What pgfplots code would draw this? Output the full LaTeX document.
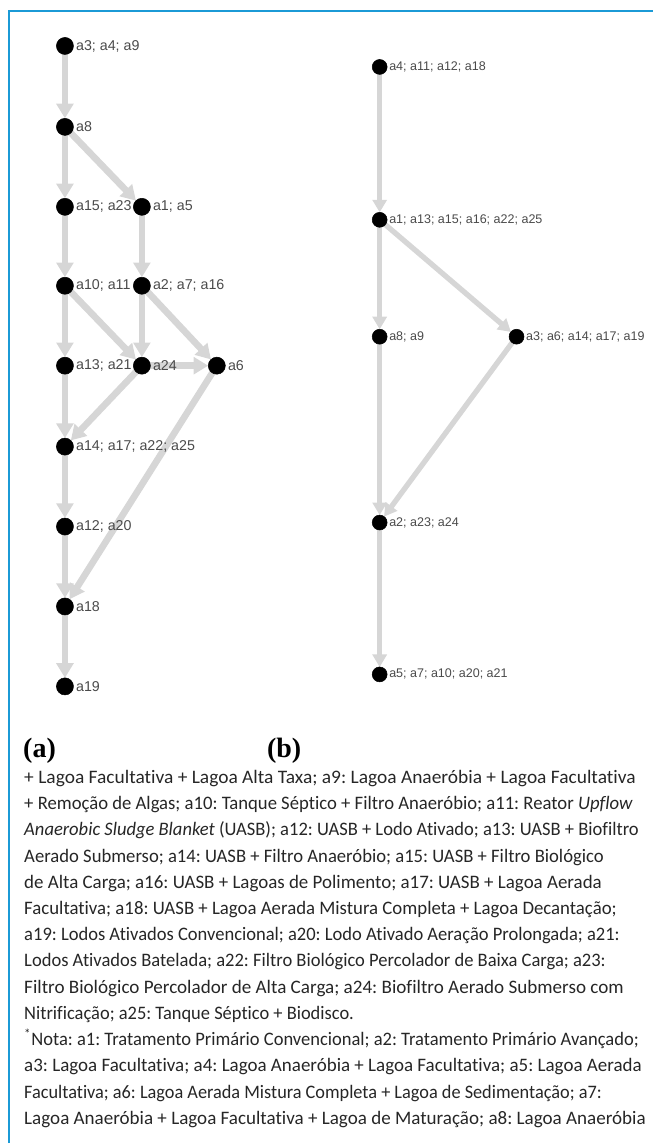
\documentclass[border=0pt]{standalone}
\usepackage{pgfplots}
\pgfplotsset{compat=1.18}
\usepackage{pgfplotstable}
\usepackage{graphicx}
\usepackage{fontspec}
\setmainfont{Carlito}[Ligatures=NoCommon]
\newfontfamily\labfont{Liberation Sans}
\newfontfamily\serf{Liberation Serif}
\usetikzlibrary{arrows.meta}
\definecolor{frameblue}{HTML}{1B9AD6}
\definecolor{edgegray}{HTML}{D6D6D6}
\definecolor{labgray}{HTML}{4A4A4A}
\protected\def\sep{;\space}
\newcommand\tline[2]{\resizebox{#1pt}{\height}{#2}}

\pgfplotstableread{
x y lab
65 46 {a3\sep a4\sep a9}
65 127 {a8}
65 207 {a15\sep a23}
142 207 {a1\sep a5}
65 286 {a10\sep a11}
142 286 {a2\sep a7\sep a16}
65 366 {a13\sep a21}
142 366 {a24}
217 366 {a6}
65 447 {a14\sep a17\sep a22\sep a25}
65 527 {a12\sep a20}
65 607 {a18}
65 687 {a19}
}\nodesA

\pgfplotstableread{
x y lab
380 67 {a4\sep a11\sep a12\sep a18}
380 220 {a1\sep a13\sep a15\sep a16\sep a22\sep a25}
380 337 {a8\sep a9}
517 337 {a3\sep a6\sep a14\sep a17\sep a19}
380 523 {a2\sep a23\sep a24}
380 675 {a5\sep a7\sep a10\sep a20\sep a21}
}\nodesB

\begin{document}
\frenchspacing
\begin{tikzpicture}
\begin{axis}[
  scale only axis, width=490.5pt, height=858pt,
  xmin=0, xmax=654, ymin=0, ymax=1144, y dir=reverse,
  hide axis, clip=false,
  edgeA/.style={draw=edgegray, line width=5pt, -{Triangle[width=12.5pt,length=11pt]}, shorten >=6.4pt},
  edgeB/.style={draw=edgegray, line width=4pt, -{Triangle[width=10.5pt,length=9.5pt]}, shorten >=5.5pt},
]
\path (axis cs:0,0) rectangle (axis cs:654,1144);
\draw[frameblue, line width=1.5pt] (axis cs:9,1144) -- (axis cs:9,11) -- (axis cs:654,11);

% edges (a)
\addplot[edgeA] coordinates {(65,46) (65,127)};
\addplot[edgeA] coordinates {(65,127) (65,207)};
\addplot[edgeA] coordinates {(65,127) (142,207)};
\addplot[edgeA] coordinates {(65,207) (65,286)};
\addplot[edgeA] coordinates {(142,207) (142,286)};
\addplot[edgeA] coordinates {(65,286) (65,366)};
\addplot[edgeA] coordinates {(65,286) (142,366)};
\addplot[edgeA] coordinates {(142,286) (142,366)};
\addplot[edgeA] coordinates {(142,286) (217,366)};
\addplot[edgeA] coordinates {(142,366) (217,366)};
\addplot[edgeA] coordinates {(65,366) (65,447)};
\addplot[edgeA] coordinates {(142,366) (65,447)};
\addplot[edgeA] coordinates {(65,447) (65,527)};
\addplot[edgeA] coordinates {(65,527) (65,607)};
\addplot[edgeA] coordinates {(217,366) (65,607)};
\addplot[edgeA] coordinates {(65,607) (65,687)};

% edges (b)
\addplot[edgeB] coordinates {(380,67) (380,220)};
\addplot[edgeB] coordinates {(380,220) (380,337)};
\addplot[edgeB] coordinates {(380,220) (517,337)};
\addplot[edgeB] coordinates {(380,337) (380,523)};
\addplot[edgeB] coordinates {(517,337) (380,523)};
\addplot[edgeB] coordinates {(380,523) (380,675)};

% labels
\addplot[only marks, mark=*, mark options={draw=none, fill=none},
  point meta=explicit symbolic, nodes near coords,
  nodes near coords style={anchor=west, xshift=8.2pt, inner sep=0pt,
    font=\labfont\fontsize{10.7}{12}\selectfont, text=labgray}]
  table[x=x, y=y, meta=lab] {\nodesA};
\addplot[only marks, mark=*, mark options={draw=none, fill=none},
  point meta=explicit symbolic, nodes near coords,
  nodes near coords style={anchor=west, xshift=7pt, inner sep=0pt,
    font=\labfont\fontsize{9.4}{11}\selectfont, text=labgray}]
  table[x=x, y=y, meta=lab] {\nodesB};

% nodes
\addplot[only marks, mark=*, mark size=6.4pt, mark options={fill=black, draw=black}]
  table[x=x, y=y] {\nodesA};
\addplot[only marks, mark=*, mark size=5.6pt, mark options={fill=black, draw=black}]
  table[x=x, y=y] {\nodesB};

% panel letters
\node[anchor=west, inner sep=0pt, font=\serf\bfseries\fontsize{21}{23}\selectfont] at (axis cs:23,751) {(a)};
\node[anchor=west, inner sep=0pt, font=\serf\bfseries\fontsize{21}{23}\selectfont] at (axis cs:267,751) {(b)};

% note text
\begin{scope}[every node/.style={anchor=base west, inner sep=0pt, font=\fontsize{14.3}{16}\selectfont, text=black!85}]
\node at (axis cs:24,784) {\tline{459}{+ Lagoa Facultativa + Lagoa Alta Taxa; a9: Lagoa Anaeróbia + Lagoa Facultativa}};
\node at (axis cs:24,810.25) {\tline{456.75}{+ Remoção de Algas; a10: Tanque Séptico + Filtro Anaeróbio; a11: Reator \textit{Upflow}}};
\node at (axis cs:24,836.5) {\tline{461.25}{\textit{Anaerobic Sludge Blanket} (UASB); a12: UASB + Lodo Ativado; a13: UASB + Biofiltro}};
\node at (axis cs:24,862.75) {\tline{435}{Aerado Submerso; a14: UASB + Filtro Anaeróbio; a15: UASB + Filtro Biológico}};
\node at (axis cs:24,889) {\tline{433.5}{de Alta Carga; a16: UASB + Lagoas de Polimento; a17: UASB + Lagoa Aerada}};
\node at (axis cs:24,915.25) {\tline{444.75}{Facultativa; a18: UASB + Lagoa Aerada Mistura Completa + Lagoa Decantação;}};
\node at (axis cs:24,941.5) {\tline{447}{a19: Lodos Ativados Convencional; a20: Lodo Ativado Aeração Prolongada; a21:}};
\node at (axis cs:24,967.75) {\tline{436.5}{Lodos Ativados Batelada; a22: Filtro Biológico Percolador de Baixa Carga; a23:}};
\node at (axis cs:24,994) {\tline{450}{Filtro Biológico Percolador de Alta Carga; a24: Biofiltro Aerado Submerso com}};
\node at (axis cs:24,1020.25) {\tline{247.5}{Nitrificação; a25: Tanque Séptico + Biodisco.}};
\node at (axis cs:24,1046.5) {\tline{461.25}{\textsuperscript{*}Nota: a1: Tratamento Primário Convencional; a2: Tratamento Primário Avançado;}};
\node at (axis cs:24,1072.75) {\tline{463.5}{a3: Lagoa Facultativa; a4: Lagoa Anaeróbia + Lagoa Facultativa; a5: Lagoa Aerada}};
\node at (axis cs:24,1099) {\tline{433.5}{Facultativa; a6: Lagoa Aerada Mistura Completa + Lagoa de Sedimentação; a7:}};
\node at (axis cs:24,1125.25) {\tline{466.5}{Lagoa Anaeróbia + Lagoa Facultativa + Lagoa de Maturação; a8: Lagoa Anaeróbia}};
\end{scope}
\end{axis}
\end{tikzpicture}
\end{document}
